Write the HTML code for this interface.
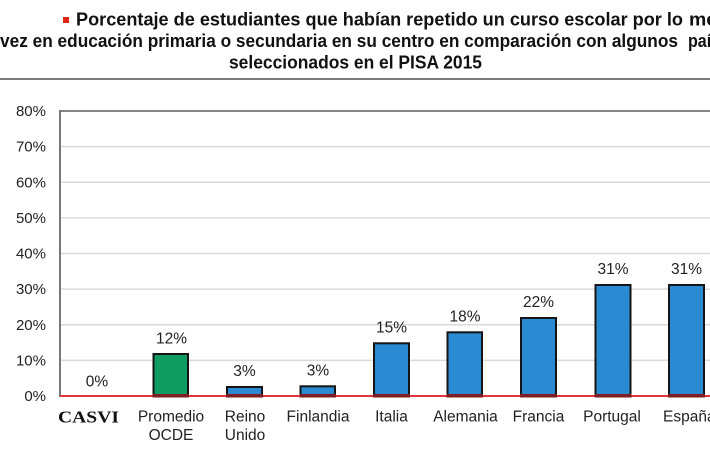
<!DOCTYPE html>
<html>
<head>
<meta charset="utf-8">
<style>
  html, body { margin: 0; padding: 0; background: #fff; }
  svg { display: block; }
  .t { font-family: "Liberation Sans", sans-serif; font-weight: bold; font-size: 18.5px; fill: #111; }
  .y { font-family: "Liberation Sans", sans-serif; font-size: 15px; fill: #222; text-anchor: end; }
  .c { font-family: "Liberation Sans", sans-serif; font-size: 15.5px; fill: #222; text-anchor: middle; }
  .v { font-family: "Liberation Sans", sans-serif; font-size: 15.5px; fill: #222; text-anchor: middle; }
</style>
</head>
<body>
<svg width="710" height="450" viewBox="0 0 710 450" xmlns="http://www.w3.org/2000/svg">
  <rect x="0" y="0" width="710" height="450" fill="#fff"/>

  <!-- Title -->
  <rect x="63" y="17" width="6" height="6" fill="#e2231a"/>
  <text class="t" x="76" y="25.5" textLength="607" lengthAdjust="spacingAndGlyphs">Porcentaje de estudiantes que habían repetido un curso escolar por lo</text>
  <text class="t" x="689" y="25.5" textLength="40" lengthAdjust="spacingAndGlyphs">men</text>
  <text class="t" x="0" y="47" textLength="678" lengthAdjust="spacingAndGlyphs">vez en educación primaria o secundaria en su centro en comparación con algunos</text>
  <text class="t" x="688" y="47" textLength="50" lengthAdjust="spacingAndGlyphs">países</text>
  <text class="t" x="229" y="68.5" textLength="253" lengthAdjust="spacingAndGlyphs">seleccionados en el PISA 2015</text>

  <!-- separator rule -->
  <rect x="0" y="78" width="710" height="2" fill="#7a7a7a"/>

  <!-- gridlines -->
  <g stroke="#d9d9d9" stroke-width="1.5">
    <line x1="61" y1="360.4" x2="710" y2="360.4"/>
    <line x1="61" y1="324.75" x2="710" y2="324.75"/>
    <line x1="61" y1="289.1" x2="710" y2="289.1"/>
    <line x1="61" y1="253.5" x2="710" y2="253.5"/>
    <line x1="61" y1="217.9" x2="710" y2="217.9"/>
    <line x1="61" y1="182.25" x2="710" y2="182.25"/>
    <line x1="61" y1="146.6" x2="710" y2="146.6"/>
  </g>
  <!-- plot top border and left axis -->
  <line x1="60" y1="111" x2="710" y2="111" stroke="#858585" stroke-width="2"/>
  <line x1="60" y1="110" x2="60" y2="397" stroke="#777" stroke-width="2"/>

  <!-- Y labels -->
  <text class="y" x="46" y="116">80%</text>
  <text class="y" x="46" y="151.6">70%</text>
  <text class="y" x="46" y="187.25">60%</text>
  <text class="y" x="46" y="222.9">50%</text>
  <text class="y" x="46" y="258.5">40%</text>
  <text class="y" x="46" y="294.1">30%</text>
  <text class="y" x="46" y="329.75">20%</text>
  <text class="y" x="46" y="365.4">10%</text>
  <text class="y" x="46" y="401">0%</text>

  <!-- red baseline -->
  <rect x="60" y="395" width="650" height="2" fill="#e0343a"/>

  <!-- Bars -->
  <g stroke="#151515" stroke-width="2">
    <rect x="153.5" y="354" width="34.5" height="42" fill="#109b63"/>
    <rect x="227" y="387" width="35" height="9" fill="#2a8ad2"/>
    <rect x="300.5" y="386.3" width="34.5" height="9.7" fill="#2a8ad2"/>
    <rect x="374" y="343.3" width="35" height="52.7" fill="#2a8ad2"/>
    <rect x="447.5" y="332.3" width="34.5" height="63.7" fill="#2a8ad2"/>
    <rect x="521" y="318" width="35" height="78" fill="#2a8ad2"/>
    <rect x="595.5" y="285" width="35" height="111" fill="#2a8ad2"/>
    <rect x="669" y="285" width="35" height="111" fill="#2a8ad2"/>
  </g>
  <!-- dark red bar bottoms -->
  <g fill="#7d1e22">
    <rect x="152.5" y="394" width="36.5" height="3.5"/>
    <rect x="226" y="394" width="37" height="3.5"/>
    <rect x="299.5" y="394" width="36.5" height="3.5"/>
    <rect x="373" y="394" width="37" height="3.5"/>
    <rect x="446.5" y="394" width="36.5" height="3.5"/>
    <rect x="520" y="394" width="37" height="3.5"/>
    <rect x="594.5" y="394" width="37" height="3.5"/>
    <rect x="668" y="394" width="37" height="3.5"/>
  </g>

  <!-- value labels -->
  <text class="v" x="97" y="386.7">0%</text>
  <text class="v" x="171.5" y="343.5">12%</text>
  <text class="v" x="244.5" y="376">3%</text>
  <text class="v" x="318" y="375.5">3%</text>
  <text class="v" x="391.5" y="332.5">15%</text>
  <text class="v" x="465" y="321.5">18%</text>
  <text class="v" x="538.5" y="307">22%</text>
  <text class="v" x="613" y="274">31%</text>
  <text class="v" x="686.5" y="274">31%</text>

  <!-- category labels -->
  <text x="58" y="422.5" textLength="61" lengthAdjust="spacingAndGlyphs" style="font-family:'Liberation Serif',serif;font-weight:bold;font-size:16.5px;fill:#111;">CASVI</text>
  <text class="c" x="171" y="421.5">Promedio</text>
  <text class="c" x="171" y="440">OCDE</text>
  <text class="c" x="245" y="421.5">Reino</text>
  <text class="c" x="245" y="440">Unido</text>
  <text class="c" x="318" y="421.5">Finlandia</text>
  <text class="c" x="391.5" y="421.5">Italia</text>
  <text class="c" x="465.5" y="421.5">Alemania</text>
  <text class="c" x="538.5" y="421.5">Francia</text>
  <text class="c" x="612" y="421.5">Portugal</text>
  <text x="663" y="421.5" style="font-family:'Liberation Sans',sans-serif;font-size:15.5px;fill:#222;">España</text>
</svg>
</body>
</html>
